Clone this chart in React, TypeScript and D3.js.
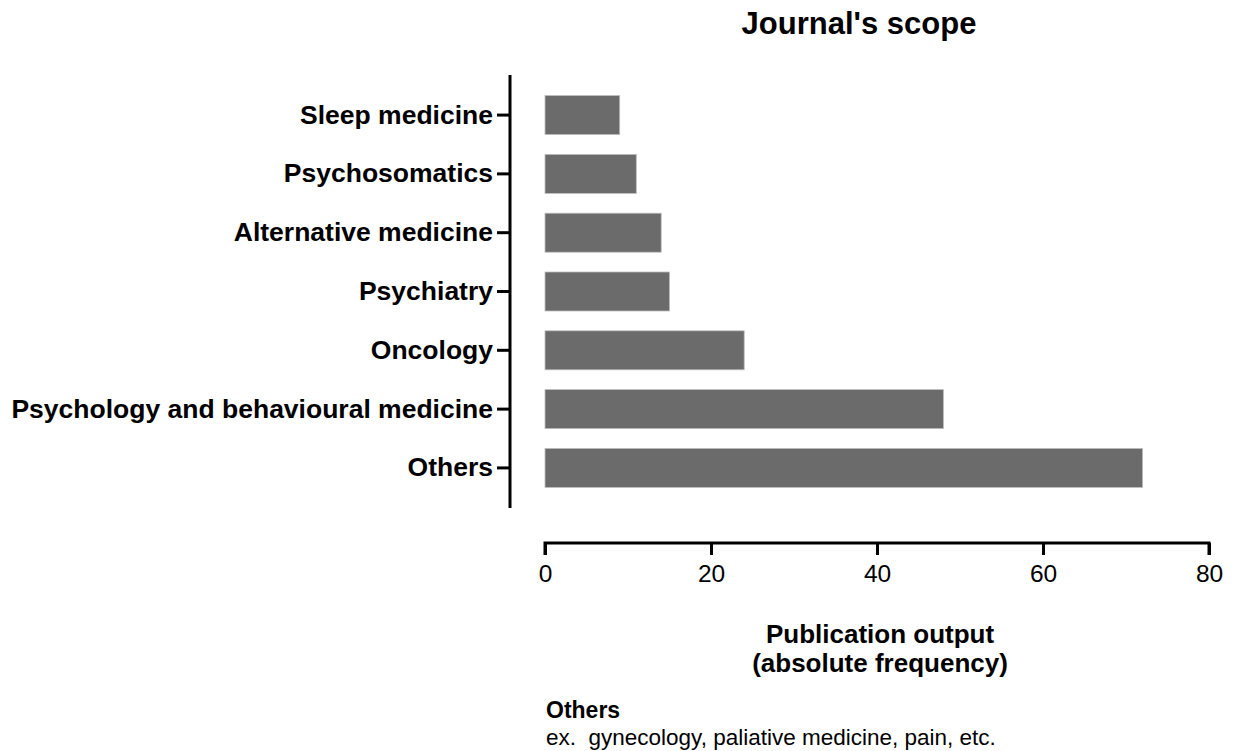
import React, { useRef, useEffect } from "react";
import { scaleBand, scaleLinear, axisBottom, axisLeft, select } from "d3";

const categories = [
  "Sleep medicine",
  "Psychosomatics",
  "Alternative medicine",
  "Psychiatry",
  "Oncology",
  "Psychology and behavioural medicine",
  "Others",
];
const counts = [9, 11, 14, 15, 24, 48, 72];
const xTicks = [0, 20, 40, 60, 80];

export default function App() {
  const width = 1235,
    height = 751;
  const font = "'Liberation Sans', Arial, Helvetica, sans-serif";

  const xAxisRef = useRef<SVGGElement>(null);
  const yAxisRef = useRef<SVGGElement>(null);

  const xScale = scaleLinear().domain([0, 80]).range([545, 1209]);
  const yScale = scaleBand<string>()
    .domain(categories)
    .range([75, 508])
    .paddingInner(0.337)
    .paddingOuter(0.35);

  useEffect(() => {
    const xAxis = axisBottom(xScale).tickValues(xTicks).tickSize(12).tickSizeOuter(0).tickPadding(10);
    const yAxis = axisLeft(yScale).tickSize(13).tickSizeOuter(0).tickPadding(4);

    const gx = select(xAxisRef.current);
    gx.call(xAxis as any);
    gx.select(".domain").attr("stroke-width", 3).attr("d", `M${xScale(0)},12V0H${xScale(80)}V12`);
    gx.selectAll(".tick line").attr("stroke-width", 3);
    gx.selectAll(".tick text")
      .attr("font-family", font)
      .attr("font-size", 24.5)
      .attr("fill", "#000");

    const gy = select(yAxisRef.current);
    gy.call(yAxis as any);
    gy.select(".domain").attr("stroke-width", 3).attr("d", "M0,75V508");
    gy.selectAll(".tick line").attr("stroke-width", 3);
    gy.selectAll(".tick text")
      .attr("font-family", font)
      .attr("font-size", 26.5)
      .attr("font-weight", "bold")
      .attr("fill", "#000");
  }, []);

  return (
    <svg
      width={width}
      height={height}
      style={{ position: "absolute", left: 0, top: 0, background: "#fff" }}
    >
      <text
        x={859}
        y={34}
        textAnchor="middle"
        fontFamily={font}
        fontSize={31}
        fontWeight="bold"
      >
        Journal's scope
      </text>
      {categories.map((c, i) => (
        <rect
          key={c}
          x={xScale(0)}
          y={yScale(c)}
          width={xScale(counts[i]) - xScale(0)}
          height={yScale.bandwidth()}
          fill="#6b6b6b"
          stroke="#bdbdbd"
          strokeWidth={0.8}
        />
      ))}
      <g ref={yAxisRef} transform="translate(510,0)" />
      <g ref={xAxisRef} transform="translate(0,543)" />
      <text
        x={880}
        y={643}
        textAnchor="middle"
        fontFamily={font}
        fontSize={26}
        fontWeight="bold"
      >
        <tspan x={880}>Publication output</tspan>
        <tspan x={880} dy={29}>(absolute frequency)</tspan>
      </text>
      <text x={546} y={718} fontFamily={font} fontSize={23} fontWeight="bold">
        Others
      </text>
      <text x={546} y={745} fontFamily={font} fontSize={22.5} style={{ whiteSpace: "pre" }}>
        {"ex.  gynecology, paliative medicine, pain, etc."}
      </text>
    </svg>
  );
}
